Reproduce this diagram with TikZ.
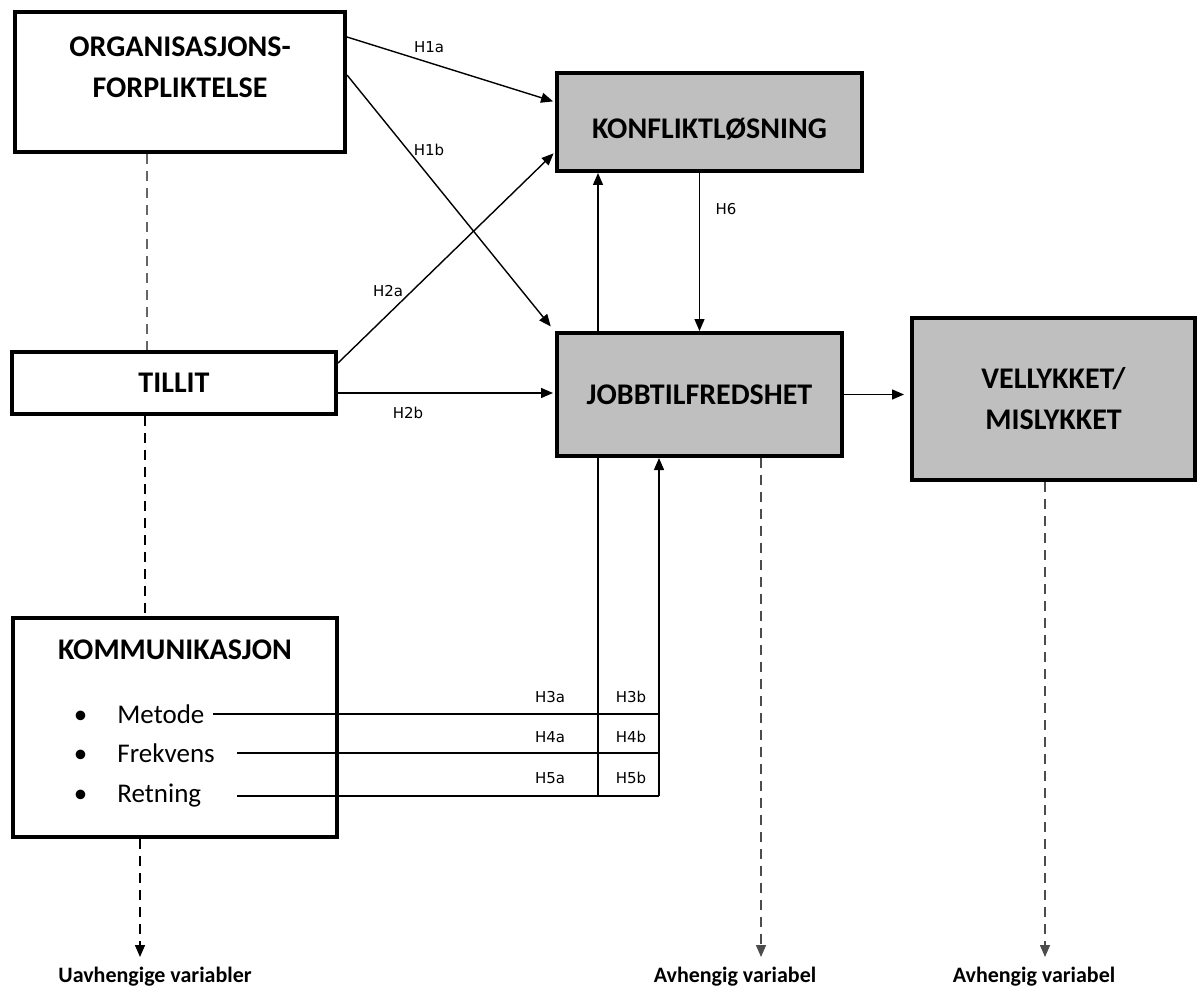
\documentclass[tikz,border=0pt]{standalone}
\usepackage{fontspec}
\setmainfont{Carlito}
\newfontfamily\hypfont{DejaVu Sans}
\usetikzlibrary{arrows.meta}

\tikzset{
    box/.style={draw, line width=2pt, inner sep=0pt},
    greybox/.style={box, fill=black!25},
    title/.style={font=\bfseries\fontsize{15}{20.5}\selectfont, align=center},
    item/.style={font=\fontsize{13.5}{16}\selectfont, anchor=west, inner xsep=0pt},
    hyp/.style={font=\hypfont\fontsize{7.5}{9}\selectfont},
    arr/.style={-{Triangle[length=6pt,width=5pt]}, line width=0.7pt},
    link/.style={line width=0.7pt},
    dashlink/.style={dash pattern=on 5pt off 3.5pt, line width=0.8pt},
    varlabel/.style={font=\bfseries\fontsize{11}{12}\selectfont, inner sep=1pt},
}

\begin{document}
\begin{tikzpicture}[x=0.5pt, y=-0.5pt]
    \useasboundingbox (0,0) rectangle (1197,989);

    % Independent variables
    \node[box, minimum width=165pt, minimum height=70pt] (org) at (180,82) {};
    \node[title] (orgtext) at (180,67) {ORGANISASJONS-\\FORPLIKTELSE};
    \node[box, title, minimum width=162pt, minimum height=31pt] (tillit) at (174,383) {TILLIT};
    \node[box, minimum width=162pt, minimum height=109.5pt] (komm) at (175,727.5) {};
    \node[title] (kommtext) at (175,650) {KOMMUNIKASJON};
    \node[item] (metode) at (117,714) {\llap{\textbullet\hspace{15pt}}Metode};
    \node[item] (frekvens) at (117,753) {\llap{\textbullet\hspace{15pt}}Frekvens};
    \node[item] (retning) at (117,796) {\llap{\textbullet\hspace{15pt}}Retning};

    % Dependent variables
    \node[greybox, minimum width=152.5pt, minimum height=49pt] (konf) at (709.5,122) {};
    \node[title] (konftext) at (709.5,129) {KONFLIKTLØSNING};
    \node[greybox, title, minimum width=142.5pt, minimum height=61.5pt] (jobb) at (699.5,394.5) {JOBBTILFREDSHET};
    \node[greybox, title, minimum width=141.5pt, minimum height=81pt] (vell) at (1053.5,399) {VELLYKKET/\\MISLYKKET};

    % Hypotheses H1 and H2
    \draw[arr, shorten >=1pt] ([yshift=-13.5pt]org.north east) -- ([yshift=10pt]konf.west);
    \draw[arr, shorten >=1pt] ([yshift=-32.5pt]org.north east) -- ([xshift=-1.5pt,yshift=1.5pt]jobb.north west);
    \draw[arr, shorten >=1pt] ([yshift=-6.5pt]tillit.north east) -- ([yshift=10.5pt]konf.south west);
    \draw[arr, shorten >=1pt] ([yshift=-5pt]tillit.east) -- ([yshift=-5pt]tillit.east -| jobb.west);
    \node[hyp] (h1a) at (429,47) {H1a};
    \node[hyp] (h1b) at (429,150) {H1b};
    \node[hyp] (h2a) at (388,291) {H2a};
    \node[hyp] (h2b) at (408,413) {H2b};

    % Between the dependent variables
    \coordinate (ja) at (598,796);
    \coordinate (jb) at (659,796);
    \draw[arr] (ja |- jobb.north) -- (ja |- konf.south);
    \draw[arr] (konf.south -| jobb.north) -- (jobb.north);
    \node[hyp] (h6) at (726,209) {H6};
    \draw[arr, shorten >=3pt] (jobb.east) -- (jobb.east -| vell.west);

    % Hypotheses H3 to H5
    \draw[link] ([xshift=4pt]metode.east) -- (metode.east -| jb);
    \draw[link] ([xshift=11pt]frekvens.east) -- (frekvens.east -| jb);
    \draw[link] ([xshift=11pt]frekvens.east |- retning.east) -- (retning.east -| jb);
    \draw[link] (ja) -- (ja |- jobb.south);
    \draw[arr] (jb) -- (jb |- jobb.south);
    \node[hyp] (h3a) at (550,697) {H3a};
    \node[hyp] (h3b) at (631,697) {H3b};
    \node[hyp] (h4a) at (550,737) {H4a};
    \node[hyp] (h4b) at (631,737) {H4b};
    \node[hyp] (h5a) at (550,778) {H5a};
    \node[hyp] (h5b) at (631,778) {H5b};

    % Dashed links and variable types
    \draw[dashlink, black!60] ([xshift=-16.5pt]org.south) -- ([xshift=-16.5pt]org.south |- tillit.north);
    \draw[dashlink] ([xshift=-14.5pt]tillit.south) -- ([xshift=-14.5pt]tillit.south |- komm.north);
    \node[varlabel] (uavh) at (155,977) {Uavhengige variabler};
    \node[varlabel] (avh1) at (735,977) {Avhengig variabel};
    \node[varlabel] (avh2) at (1034,977) {Avhengig variabel};
    \draw[dashlink, arr, shorten >=4pt] ([xshift=-17.5pt]komm.south) -- ([xshift=-17.5pt]komm.south |- uavh.north);
    \draw[dashlink, arr, black!70, shorten >=4pt] ([xshift=30.75pt]jobb.south) -- ([xshift=30.75pt]jobb.south |- avh1.north);
    \draw[dashlink, arr, black!70, shorten >=4pt] ([xshift=-4.25pt]vell.south) -- ([xshift=-4.25pt]vell.south |- avh2.north);
\end{tikzpicture}
\end{document}
